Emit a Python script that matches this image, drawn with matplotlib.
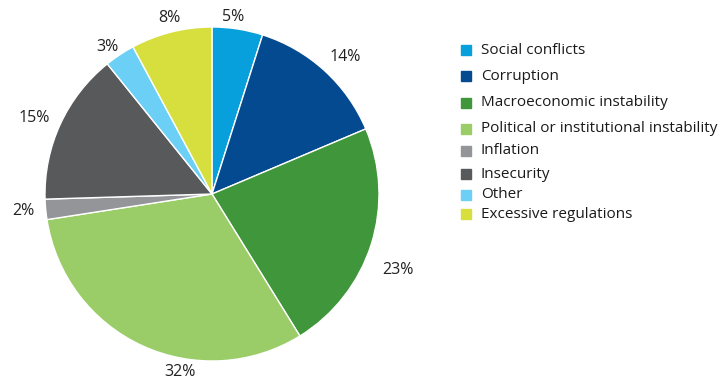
import numpy as np
import matplotlib.pyplot as plt
from matplotlib.patches import Rectangle

plt.rcParams['font.family'] = ['Open Sans', 'DejaVu Sans']

categories = ['Social conflicts', 'Corruption', 'Macroeconomic instability',
              'Political or institutional instability', 'Inflation',
              'Insecurity', 'Other', 'Excessive regulations']
shares = [5, 14, 23, 32, 2, 15, 3, 8]
colors = ['#079fdc', '#034a91', '#40963a', '#9acd68', '#939598',
          '#58595b', '#6ccff6', '#d6df3d']

# placement of each percentage label: distance (pie radii) and
# clockwise shift (degrees) from the wedge's middle
label_dist = [1.07, 1.145, 1.20, 1.085, 1.135, 1.16, 1.08, 1.085]
label_shift = [-2, 2, 4.5, -14.5, 0, -1.5, -2, 0.5]

W, H = 723, 385
fig = plt.figure(figsize=(W / 100, H / 100), dpi=100)

# pie centre (212, 194) px, radius 167 px
cx, cy, r = 212, 194, 167
ax = fig.add_axes([(cx - r) / W, (H - cy - r) / H, 2 * r / W, 2 * r / H])
wedges, _ = ax.pie(shares, colors=colors, startangle=90, counterclock=False,
                   wedgeprops=dict(edgecolor='white', linewidth=1))
for w, v, d, s in zip(wedges, shares, label_dist, label_shift):
    ang = np.deg2rad((w.theta1 + w.theta2) / 2 - s)
    ax.text(d * np.cos(ang), d * np.sin(ang), f'{v}%', fontsize=11.5,
            color='#222222', ha='center', va='center', clip_on=False)
ax.set_xlim(-1, 1)
ax.set_ylim(-1, 1)
ax.set_aspect('equal')

# legend drawn item by item
legend_y = [50, 76, 103, 129, 151, 174, 195, 214]
for lab, col, y in zip(categories, colors, legend_y):
    fig.patches.append(Rectangle((461 / W, (H - y - 5) / H), 10 / W, 10 / H,
                                 transform=fig.transFigure, color=col))
    fig.text(481 / W, (H - y) / H, lab, fontsize=11, color='#1a1a1a',
             va='center', ha='left')

fig.savefig('out.png', dpi=100)
